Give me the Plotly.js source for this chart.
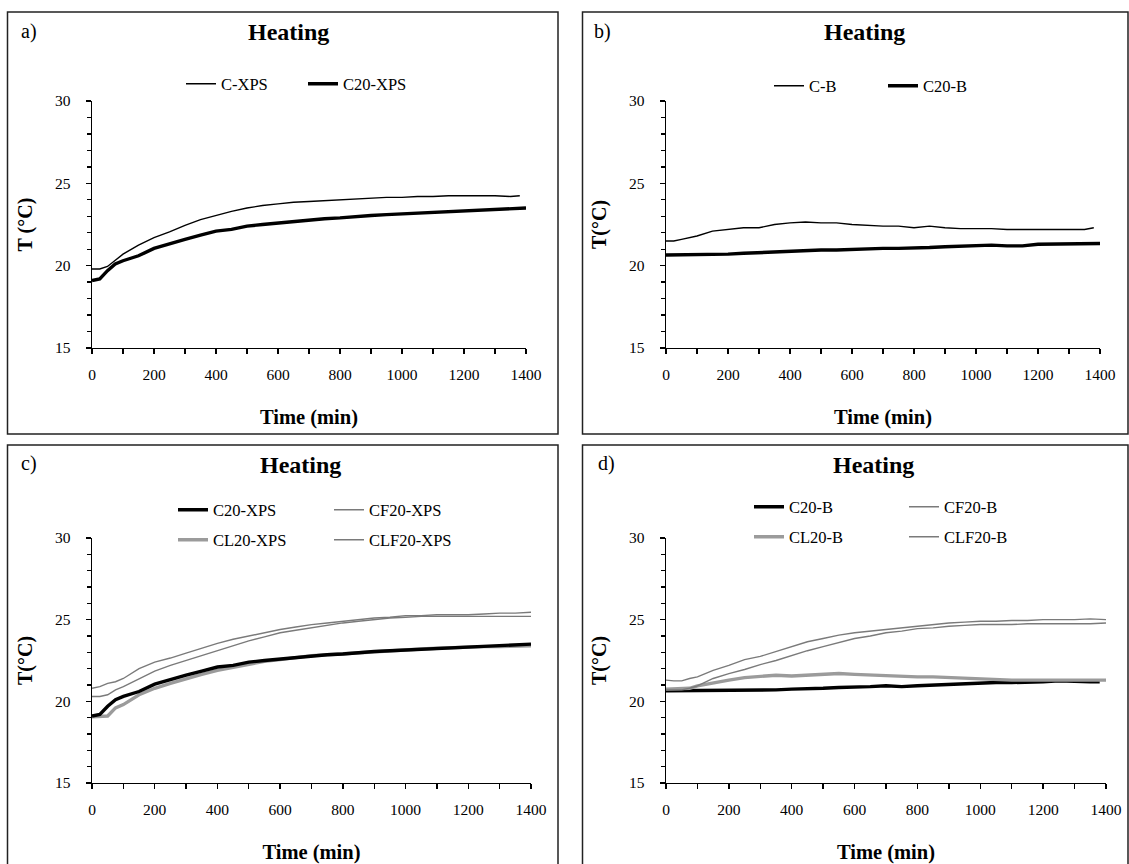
<!DOCTYPE html>
<html>
<head>
<meta charset="utf-8">
<script src="https://cdn.plot.ly/plotly-3.0.1.min.js"></script>
<style>html,body{margin:0;padding:0;background:#fff;} #chart{width:1129px;height:864px;}</style>
</head>
<body>
<div id="chart"></div>
<script>
// ---------- data ----------
const timeMin      = [0,25,50,75,100,150,200,250,300,350,400,450,500,550,600,650,700,750,800,850,900,950,1000,1050,1100,1150,1200,1250,1300,1350,1400];
const timeMinShort = [0,25,50,75,100,150,200,250,300,350,400,450,500,550,600,650,700,750,800,850,900,950,1000,1050,1100,1150,1200,1250,1300,1350,1380];

// a) XPS
const cXPS    = [19.8,19.8,19.95,20.35,20.7,21.25,21.7,22.05,22.45,22.8,23.05,23.3,23.5,23.65,23.75,23.85,23.9,23.95,24.0,24.05,24.1,24.15,24.15,24.2,24.2,24.25,24.25,24.25,24.25,24.2,24.25];
const c20XPS  = [19.1,19.2,19.7,20.1,20.3,20.6,21.05,21.35,21.6,21.85,22.1,22.2,22.4,22.5,22.6,22.7,22.8,22.85,22.9,23.0,23.05,23.1,23.15,23.2,23.2,23.3,23.35,23.4,23.45,23.45,23.5];
// b) B
const cB      = [21.5,21.5,21.6,21.7,21.8,22.1,22.2,22.3,22.3,22.5,22.6,22.65,22.6,22.6,22.5,22.45,22.4,22.4,22.3,22.4,22.3,22.25,22.25,22.25,22.2,22.2,22.2,22.2,22.2,22.2,22.3];
const c20B    = [20.65,20.65,20.65,20.65,20.65,20.7,20.7,20.75,20.8,20.85,20.85,20.9,20.95,20.95,21.0,21.0,21.05,21.05,21.05,21.1,21.15,21.2,21.2,21.25,21.2,21.2,21.3,21.3,21.35,21.3,21.35];
// c) XPS with additives
const cl20XPS  = [19.05,19.05,19.1,19.6,19.8,20.4,20.8,21.1,21.4,21.65,21.9,22.1,22.3,22.45,22.55,22.7,22.8,22.85,22.9,22.95,23.0,23.1,23.15,23.2,23.25,23.3,23.3,23.35,23.35,23.4,23.4];
const cf20XPS  = [20.8,20.9,21.1,21.2,21.4,22.0,22.4,22.65,22.95,23.25,23.55,23.8,24.0,24.2,24.4,24.55,24.7,24.8,24.9,25.0,25.1,25.15,25.25,25.25,25.3,25.3,25.3,25.35,25.4,25.4,25.45];
const clf20XPS = [20.3,20.3,20.4,20.7,20.9,21.4,21.85,22.2,22.5,22.8,23.1,23.4,23.7,23.95,24.2,24.35,24.5,24.65,24.8,24.9,25.0,25.1,25.15,25.2,25.2,25.2,25.2,25.2,25.2,25.2,25.2];
// d) B with additives
const c20Bd    = [20.65,20.65,20.65,20.7,20.7,20.7,20.7,20.7,20.7,20.7,20.75,20.75,20.8,20.85,20.85,20.9,20.95,20.9,20.95,21.0,21.05,21.05,21.1,21.15,21.15,21.15,21.2,21.25,21.2,21.2,21.2];
const cl20B    = [20.75,20.75,20.75,20.8,20.95,21.15,21.3,21.45,21.5,21.6,21.55,21.6,21.7,21.7,21.65,21.6,21.55,21.5,21.5,21.5,21.45,21.45,21.4,21.35,21.3,21.3,21.3,21.3,21.3,21.3,21.3];
const cf20B    = [21.3,21.25,21.25,21.4,21.5,21.9,22.2,22.55,22.75,23.05,23.35,23.65,23.85,24.05,24.2,24.3,24.4,24.5,24.6,24.7,24.8,24.85,24.9,24.9,24.95,24.95,25.0,25.0,25.0,25.05,25.0];
const clf20B   = [20.7,20.7,20.7,20.8,20.95,21.4,21.7,21.95,22.25,22.5,22.8,23.1,23.35,23.6,23.85,24.0,24.2,24.3,24.45,24.5,24.6,24.65,24.7,24.7,24.7,24.75,24.75,24.75,24.75,24.75,24.8];

const panelLabels = ['a)','b)','c)','d)'];
const panelTitle = 'Heating';
const xTitle = 'Time (min)';
const yTitles = ['T (°C)','T(°C)','T(°C)','T(°C)'];

// ---------- layout helpers ----------
const W = 1129, H = 864;
const px = x => x / W;
const py = y => 1 - y / H;
const FONT = '"Liberation Serif", "Times New Roman", serif';
const BLACK = '#000000', GRAY_THIN = '#7a7a7a', GRAY_THICK = '#9b9b9b';

function xAxis(l, r, anchor) {
  return {
    domain: [px(l), px(r)], anchor: anchor, range: [0, 1400], fixedrange: true,
    showgrid: false, zeroline: false, showline: true, linecolor: '#000', linewidth: 1.3,
    ticks: 'outside', ticklen: 5, tickwidth: 1.3, tickcolor: '#000', tick0: 0, dtick: 200,
    minor: {dtick: 100, ticks: 'outside', ticklen: 5, tickwidth: 1.3, tickcolor: '#000', showgrid: false},
    tickfont: {family: FONT, size: 15.5, color: '#000'}, ticklabelstandoff: 7,
    title: {text: xTitle, font: {family: FONT, size: 20.5, weight: 'bold', color: '#000'}, standoff: 27}
  };
}
function yAxis(t, b, anchor, title) {
  return {
    domain: [py(b), py(t)], anchor: anchor, range: [15, 30], fixedrange: true,
    showgrid: false, zeroline: false, showline: true, linecolor: '#000', linewidth: 1.3,
    ticks: 'outside', ticklen: 5, tickwidth: 1.3, tickcolor: '#000', tick0: 15, dtick: 5,
    minor: {dtick: 1, ticks: 'outside', ticklen: 4, tickwidth: 1.3, tickcolor: '#000', showgrid: false},
    tickfont: {family: FONT, size: 15.5, color: '#000'}, ticklabelstandoff: 12,
    title: {text: title, font: {family: FONT, size: 20, weight: 'bold', color: '#000'}, standoff: 17}
  };
}
function tr(x, y, name, ax, leg, color, width, rank) {
  return {x: x, y: y, name: name, xaxis: 'x' + ax, yaxis: 'y' + ax, legend: leg, legendrank: rank,
          type: 'scatter', mode: 'lines', line: {color: color, width: width}, hoverinfo: 'skip'};
}

const traces = [
  tr(timeMinShort, cXPS, 'C-XPS', '', 'legend', BLACK, 1.4, 1),
  tr(timeMin, c20XPS, 'C20-XPS', '', 'legend', BLACK, 3.4, 2),

  tr(timeMinShort, cB, 'C-B', '2', 'legend2', BLACK, 1.4, 1),
  tr(timeMin, c20B, 'C20-B', '2', 'legend2', BLACK, 3.4, 2),

  tr(timeMin, cl20XPS, 'CL20-XPS', '3', 'legend4', GRAY_THICK, 3.4, 1),
  tr(timeMin, c20XPS, 'C20-XPS', '3', 'legend3', BLACK, 3.4, 1),
  tr(timeMin, cf20XPS, 'CF20-XPS', '3', 'legend3', GRAY_THIN, 1.4, 2),
  tr(timeMin, clf20XPS, 'CLF20-XPS', '3', 'legend4', GRAY_THIN, 1.4, 2),

  tr(timeMinShort, c20Bd, 'C20-B', '4', 'legend5', BLACK, 3.4, 1),
  tr(timeMin, cl20B, 'CL20-B', '4', 'legend6', GRAY_THICK, 3.4, 1),
  tr(timeMin, cf20B, 'CF20-B', '4', 'legend5', GRAY_THIN, 1.4, 2),
  tr(timeMin, clf20B, 'CLF20-B', '4', 'legend6', GRAY_THIN, 1.4, 2)
];

function leg(xPix, yPix, entryW) {
  return {x: px(xPix), y: py(yPix), xanchor: 'left', yanchor: 'middle', orientation: 'h',
          bgcolor: 'rgba(0,0,0,0)', borderwidth: 0, entrywidth: entryW, entrywidthmode: 'pixels',
          font: {family: FONT, size: 16.5, color: '#000'}, itemclick: false, itemdoubleclick: false,
          traceorder: 'normal', tracegroupgap: 0};
}

const boxes = [[7.5, 12, 558, 434], [582.5, 12, 1128, 434], [7.5, 445, 558, 870], [582.5, 445, 1128, 870]];
const shapes = boxes.map(b => ({type: 'rect', xref: 'paper', yref: 'paper',
  x0: px(b[0]), x1: px(b[2]), y0: py(b[3]), y1: py(b[1]), line: {color: '#222', width: 1.5}, fillcolor: 'rgba(0,0,0,0)', layer: 'below'}));

const titlePos = [[288, 32], [864, 32], [300, 465], [873, 465]];
const labelPos = [[19, 32], [592, 32], [19, 463], [596, 463]];
const annotations = [];
titlePos.forEach(p => annotations.push({xref: 'paper', yref: 'paper', x: px(p[0]), y: py(p[1]), xanchor: 'center', yanchor: 'middle',
  text: panelTitle, showarrow: false, font: {family: FONT, size: 24, weight: 'bold', color: '#000'}}));
labelPos.forEach((p, i) => annotations.push({xref: 'paper', yref: 'paper', x: px(p[0]), y: py(p[1]), xanchor: 'left', yanchor: 'middle',
  text: panelLabels[i], showarrow: false, font: {family: FONT, size: 20, color: '#000'}}));

const layout = {
  width: W, height: H, margin: {l: 0, r: 0, t: 0, b: 0},
  paper_bgcolor: '#ffffff', plot_bgcolor: 'rgba(0,0,0,0)', showlegend: true,
  font: {family: FONT, color: '#000'},
  xaxis: xAxis(92, 526, 'y'),   yaxis: yAxis(101, 348, 'x', yTitles[0]),
  xaxis2: xAxis(666, 1100, 'y2'), yaxis2: yAxis(101, 348, 'x2', yTitles[1]),
  xaxis3: xAxis(92, 531, 'y3'), yaxis3: yAxis(538, 783, 'x3', yTitles[2]),
  xaxis4: xAxis(666, 1106, 'y4'), yaxis4: yAxis(538, 783, 'x4', yTitles[3]),
  legend: leg(181, 84, 77),
  legend2: leg(769, 86, 69),
  legend3: leg(173, 510, 111),
  legend4: leg(173, 540, 111),
  legend5: leg(749, 507, 110),
  legend6: leg(749, 537, 110),
  shapes: shapes, annotations: annotations
};

Plotly.newPlot('chart', traces, layout, {staticPlot: true, displayModeBar: false});
</script>
</body>
</html>
